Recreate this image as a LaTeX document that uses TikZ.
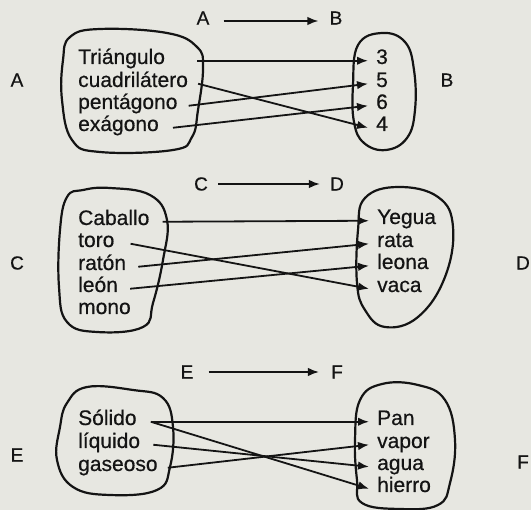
\documentclass[tikz,border=0pt]{standalone}
\usepackage{fontspec}
\setmainfont{Liberation Sans}[FakeBold=0.5]
\usetikzlibrary{arrows.meta}
\definecolor{papel}{RGB}{231,231,225}
\definecolor{tinta}{RGB}{20,20,20}

\begin{document}
\begin{tikzpicture}[x=1pt, y=-1pt, color=tinta,
	elem/.style={font=\fontsize{21}{22}\selectfont, inner sep=0pt, text height=.8em, text depth=.15em, anchor=base west},
	dest/.style={elem, inner xsep=8pt},
	letra/.style={font=\fontsize{19}{20}\selectfont, inner sep=0pt},
	flecha/.style={line width=1.8pt, -{Latex[length=11pt,width=8.5pt]}},
	conj/.style={line width=2.2pt}]
	\useasboundingbox (0,0) rectangle (531,510);
	\fill[papel] (0,0) rectangle (531,510);
	
	% A -> B
	\node[letra] (tA) at (203,18) {A};
	\node[letra] (tB) at (336,18) {B};
	\node[letra] (lA) at (17,80) {A};
	\node[letra] (lB) at (447,80) {B};
	\draw[flecha] ([xshift=14pt,yshift=-3pt]tA.east) -- ([xshift=-11pt,yshift=-3pt]tB.west);
	
	\draw[conj] plot[smooth cycle, tension=0.7] coordinates {(70,37) (100,29) (167,33) (197,47) (203,68) (198,110) (192,137) (173,150) (100,152) (72,140) (62,100) (63,60)};
	\draw[conj] plot[smooth cycle, tension=0.7] coordinates {(358,45) (382,33) (405,42) (414,70) (415,110) (407,138) (386,150) (364,143) (354,122) (353,85)};
	
	\node[elem] (tri) at (78,64) {Triángulo};
	\node[elem] (cua) at (78,87) {cuadrilátero};
	\node[elem] (pen) at (78,109) {pentágono};
	\node[elem] (exa) at (78,131) {exágono};
	\node[dest] (n3) at (368,64) {3};
	\node[dest] (n5) at (368,87) {5};
	\node[dest] (n6) at (368,109) {6};
	\node[dest] (n4) at (368,131) {4};
	
	\foreach \a/\b/\s in {tri/n3/32, cua/n4/10, pen/n5/11, exa/n6/14} {
		\draw[flecha] ([xshift=\s pt]\a.east) -- (\b.west);
	}
	
	% C -> D
	\node[letra] (tC) at (201,184) {C};
	\node[letra] (tD) at (337,184) {D};
	\node[letra] (lC) at (17,263) {C};
	\node[letra] (lD) at (523,263) {D};
	\draw[flecha] ([xshift=10pt]tC.east) -- ([xshift=-10pt]tD.west);
	
	\draw[conj] plot[smooth cycle, tension=0.7] coordinates {(67,197) (83,190) (110,188) (150,195) (167,220) (163,260) (153,303) (143,327) (97,332) (67,322) (59,287) (60,230)};
	\draw[conj] plot[smooth cycle, tension=0.7] coordinates {(365,198) (398,187) (438,197) (453,227) (445,277) (418,317) (385,327) (365,310) (357,283) (358,230)};
	
	\node[elem] (cab) at (78,225) {Caballo};
	\node[elem] (tor) at (78,247) {toro};
	\node[elem] (rat) at (78,270) {ratón};
	\node[elem] (leo) at (78,292) {león};
	\node[elem] (mon) at (78,314) {mono};
	\node[dest] (yeg) at (369,224) {Yegua};
	\node[dest] (rta) at (369,247) {rata};
	\node[dest] (lna) at (369,269) {leona};
	\node[dest] (vac) at (369,292) {vaca};
	
	\foreach \a/\b/\s in {cab/yeg/13, tor/vac/16, rat/rta/12, leo/lna/12} {
		\draw[flecha] ([xshift=\s pt]\a.east) -- (\b.west);
	}
	
	% E -> F
	\node[letra] (tE) at (187,372) {E};
	\node[letra] (tF) at (337,372) {F};
	\node[letra] (lE) at (17,455) {E};
	\node[letra] (lF) at (523,462) {F};
	\draw[flecha] ([xshift=15pt]tE.east) -- ([xshift=-12pt]tF.west);
	
	\draw[conj] plot[smooth cycle, tension=0.7] coordinates {(67,403) (87,387) (133,390) (163,398) (173,427) (170,467) (157,490) (110,495) (73,487) (57,460) (60,427)};
	\draw[conj] plot[smooth cycle, tension=0.7] coordinates {(360,400) (382,384) (418,385) (445,400) (455,440) (450,483) (438,505) (400,509) (362,503) (357,480) (355,440)};
	
	\node[elem] (sol) at (78,425) {Sólido};
	\node[elem] (liq) at (78,448) {líquido};
	\node[elem] (gas) at (78,471) {gaseoso};
	\node[dest] (pan) at (369,425) {Pan};
	\node[dest] (vap) at (369,448) {vapor};
	\node[dest] (agu) at (369,470) {agua};
	\node[dest] (hie) at (369,492) {hierro};
	
	\foreach \a/\b/\s in {sol/pan/14, sol/hie/14, liq/agu/13, gas/vap/10} {
		\draw[flecha] ([xshift=\s pt]\a.east) -- (\b.west);
	}
\end{tikzpicture}
\end{document}
